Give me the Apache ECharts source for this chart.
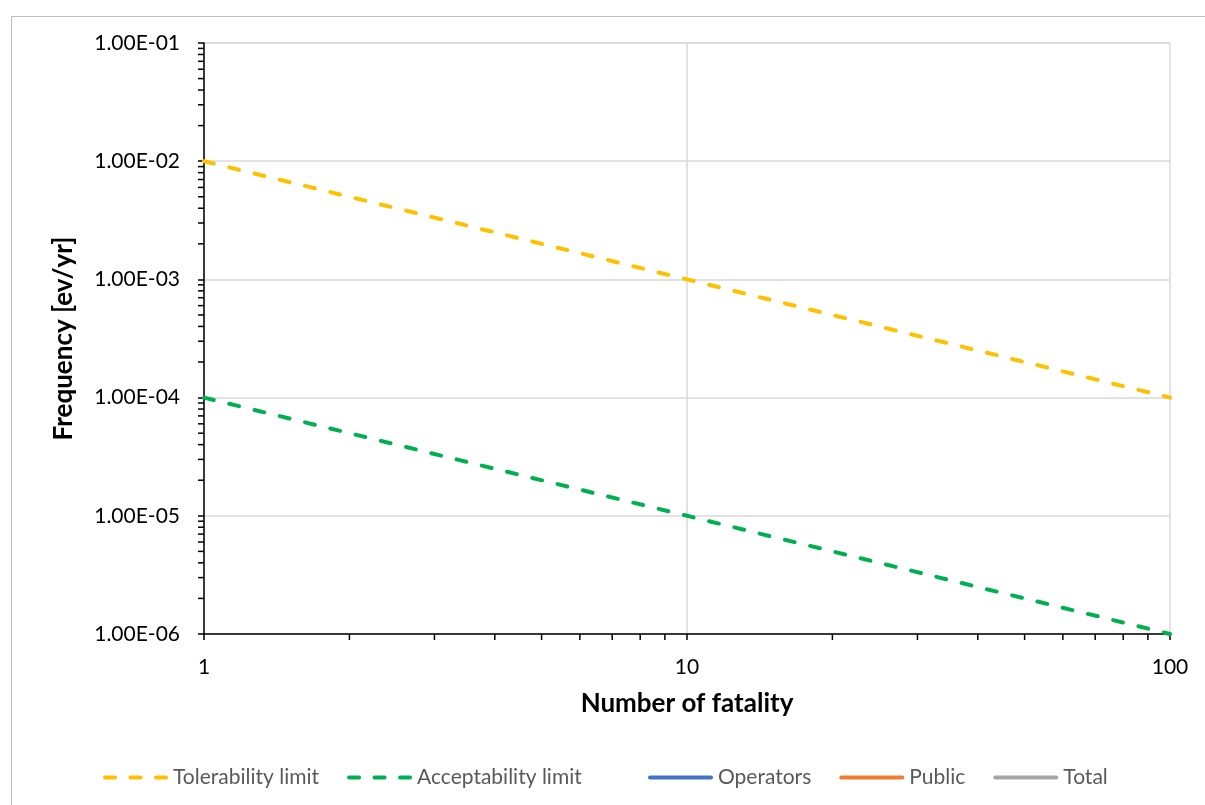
<!DOCTYPE html>
<html>
<head>
<meta charset="utf-8">
<script src="https://cdn.jsdelivr.net/npm/echarts@6/dist/echarts.min.js"></script>
<style>
html,body{margin:0;padding:0;background:#fff;}
#chart{width:1205px;height:805px;}
</style>
</head>
<body>
<div id="chart"></div>
<script>
const fatalities = [1, 10, 100];
const tolerability = [1e-2, 1e-3, 1e-4];
const acceptability = [1e-4, 1e-5, 1e-6];
const operators = [];
const publicRisk = [];
const total = [];
const xMinorTicks = [2, 3, 4, 5, 6, 7, 8, 9, 20, 30, 40, 50, 60, 70, 80, 90];
const yMinorTicks = [
  2e-6, 3e-6, 4e-6, 5e-6, 6e-6, 7e-6, 8e-6, 9e-6,
  2e-5, 3e-5, 4e-5, 5e-5, 6e-5, 7e-5, 8e-5, 9e-5,
  2e-4, 3e-4, 4e-4, 5e-4, 6e-4, 7e-4, 8e-4, 9e-4,
  2e-3, 3e-3, 4e-3, 5e-3, 6e-3, 7e-3, 8e-3, 9e-3,
  2e-2, 3e-2, 4e-2, 5e-2, 6e-2, 7e-2, 8e-2, 9e-2
];
const seriesNames = ['Tolerability limit', 'Acceptability limit', 'Operators', 'Public', 'Total'];

const FONT = 'Lato';
const xMin = 1, xMax = 100, yMin = 1e-6, yMax = 1e-1;

function fmtExp(v) {
  const e = Math.round(Math.log10(v));
  const m = v / Math.pow(10, e);
  const sign = e < 0 ? '-' : '+';
  const a = Math.abs(e);
  return m.toFixed(2) + 'E' + sign + (a < 10 ? '0' + a : a);
}
function pairs(xs, ys) { return ys.map((y, i) => [xs[i], y]); }

// legend icons (rounded dashes / solid bar), 65 x 4 box
function seg(x0, x1) {
  return 'M' + (x0 + 2) + ',0 H' + (x1 - 2) + ' A2,2 0 0 1 ' + (x1 - 2) + ',4 H' + (x0 + 2) + ' A2,2 0 0 1 ' + (x0 + 2) + ',0 Z ';
}
const dashIcon = 'path://' + seg(0, 14) + seg(25.5, 39.5) + seg(51, 65);
const solidIcon = 'path://' + seg(0, 65);

const chart = echarts.init(document.getElementById('chart'), null, {renderer: 'canvas'});
const dashStyle = (color) => ({color: color, width: 4, type: [10, 16], cap: 'round'});
const solidStyle = (color) => ({color: color, width: 4, cap: 'round'});
const legendBase = {
  top: 762, itemWidth: 65, itemHeight: 4, itemGap: 28,
  textStyle: {fontFamily: FONT, fontSize: 21, color: '#595959'}
};

chart.setOption({
  animation: false,
  backgroundColor: '#fff',
  textStyle: {fontFamily: FONT},
  graphic: [{
    type: 'rect', left: 9, top: 14, silent: true,
    shape: {x: 0, y: 0, width: 1210, height: 800},
    style: {fill: 'none', stroke: '#BFBFBF', lineWidth: 1}
  }],
  grid: {left: 204, top: 43, right: 35, bottom: 171, containLabel: false},
  legend: [
    Object.assign({}, legendBase, {
      left: 98,
      data: [{name: seriesNames[0], icon: dashIcon}, {name: seriesNames[1], icon: dashIcon}]
    }),
    Object.assign({}, legendBase, {
      left: 643,
      data: [{name: seriesNames[2], icon: solidIcon}, {name: seriesNames[3], icon: solidIcon}, {name: seriesNames[4], icon: solidIcon}]
    })
  ],
  xAxis: {
    type: 'log', logBase: 10, min: xMin, max: xMax,
    name: 'Number of fatality', nameLocation: 'middle', nameGap: 57,
    nameTextStyle: {fontFamily: FONT, fontSize: 26, fontWeight: 'bold', color: '#000'},
    axisLine: {show: true, lineStyle: {color: '#000', width: 1.5}},
    axisTick: {show: true, length: 6, lineStyle: {color: '#000', width: 1.5}},
    axisLabel: {fontFamily: FONT, fontSize: 21, color: '#000', margin: 23},
    splitLine: {show: true, lineStyle: {color: '#D9D9D9', width: 1.5}}
  },
  yAxis: {
    type: 'log', logBase: 10, min: yMin, max: yMax,
    name: 'Frequency [ev/yr]', nameLocation: 'middle', nameGap: 127, nameRotate: 90,
    nameTextStyle: {fontFamily: FONT, fontSize: 26, fontWeight: 'bold', color: '#000'},
    axisLine: {show: true, lineStyle: {color: '#000', width: 1.5}},
    axisTick: {show: true, length: 6, lineStyle: {color: '#000', width: 1.5}},
    axisLabel: {fontFamily: FONT, fontSize: 21, color: '#000', margin: 24, formatter: fmtExp},
    splitLine: {show: true, lineStyle: {color: '#D9D9D9', width: 1.5}}
  },
  series: [
    {name: seriesNames[0], type: 'line', data: pairs(fatalities, tolerability), showSymbol: false, symbol: 'none', lineStyle: dashStyle('#FFC000'), itemStyle: {color: '#FFC000'}, z: 5},
    {name: seriesNames[1], type: 'line', data: pairs(fatalities, acceptability), showSymbol: false, symbol: 'none', lineStyle: dashStyle('#00B050'), itemStyle: {color: '#00B050'}, z: 5},
    {name: seriesNames[2], type: 'line', data: operators, showSymbol: false, symbol: 'none', lineStyle: solidStyle('#4472C4'), itemStyle: {color: '#4472C4'}},
    {name: seriesNames[3], type: 'line', data: publicRisk, showSymbol: false, symbol: 'none', lineStyle: solidStyle('#ED7D31'), itemStyle: {color: '#ED7D31'}},
    {name: seriesNames[4], type: 'line', data: total, showSymbol: false, symbol: 'none', lineStyle: solidStyle('#A5A5A5'), itemStyle: {color: '#A5A5A5'}},
    {
      name: 'xMinor', type: 'custom', silent: true, clip: false, z: 10,
      data: xMinorTicks.map(v => [v, yMin]),
      encode: {x: 0, y: 1},
      renderItem: function (params, api) {
        const p = api.coord([api.value(0), api.value(1)]);
        return {type: 'line', shape: {x1: p[0], y1: p[1], x2: p[0], y2: p[1] + 6}, style: {stroke: '#000', lineWidth: 1.5}};
      }
    },
    {
      name: 'yMinor', type: 'custom', silent: true, clip: false, z: 10,
      data: yMinorTicks.map(v => [xMin, v]),
      encode: {x: 0, y: 1},
      renderItem: function (params, api) {
        const p = api.coord([api.value(0), api.value(1)]);
        return {type: 'line', shape: {x1: p[0] - 6, y1: p[1], x2: p[0], y2: p[1]}, style: {stroke: '#000', lineWidth: 1.5}};
      }
    }
  ]
});
</script>
</body>
</html>
